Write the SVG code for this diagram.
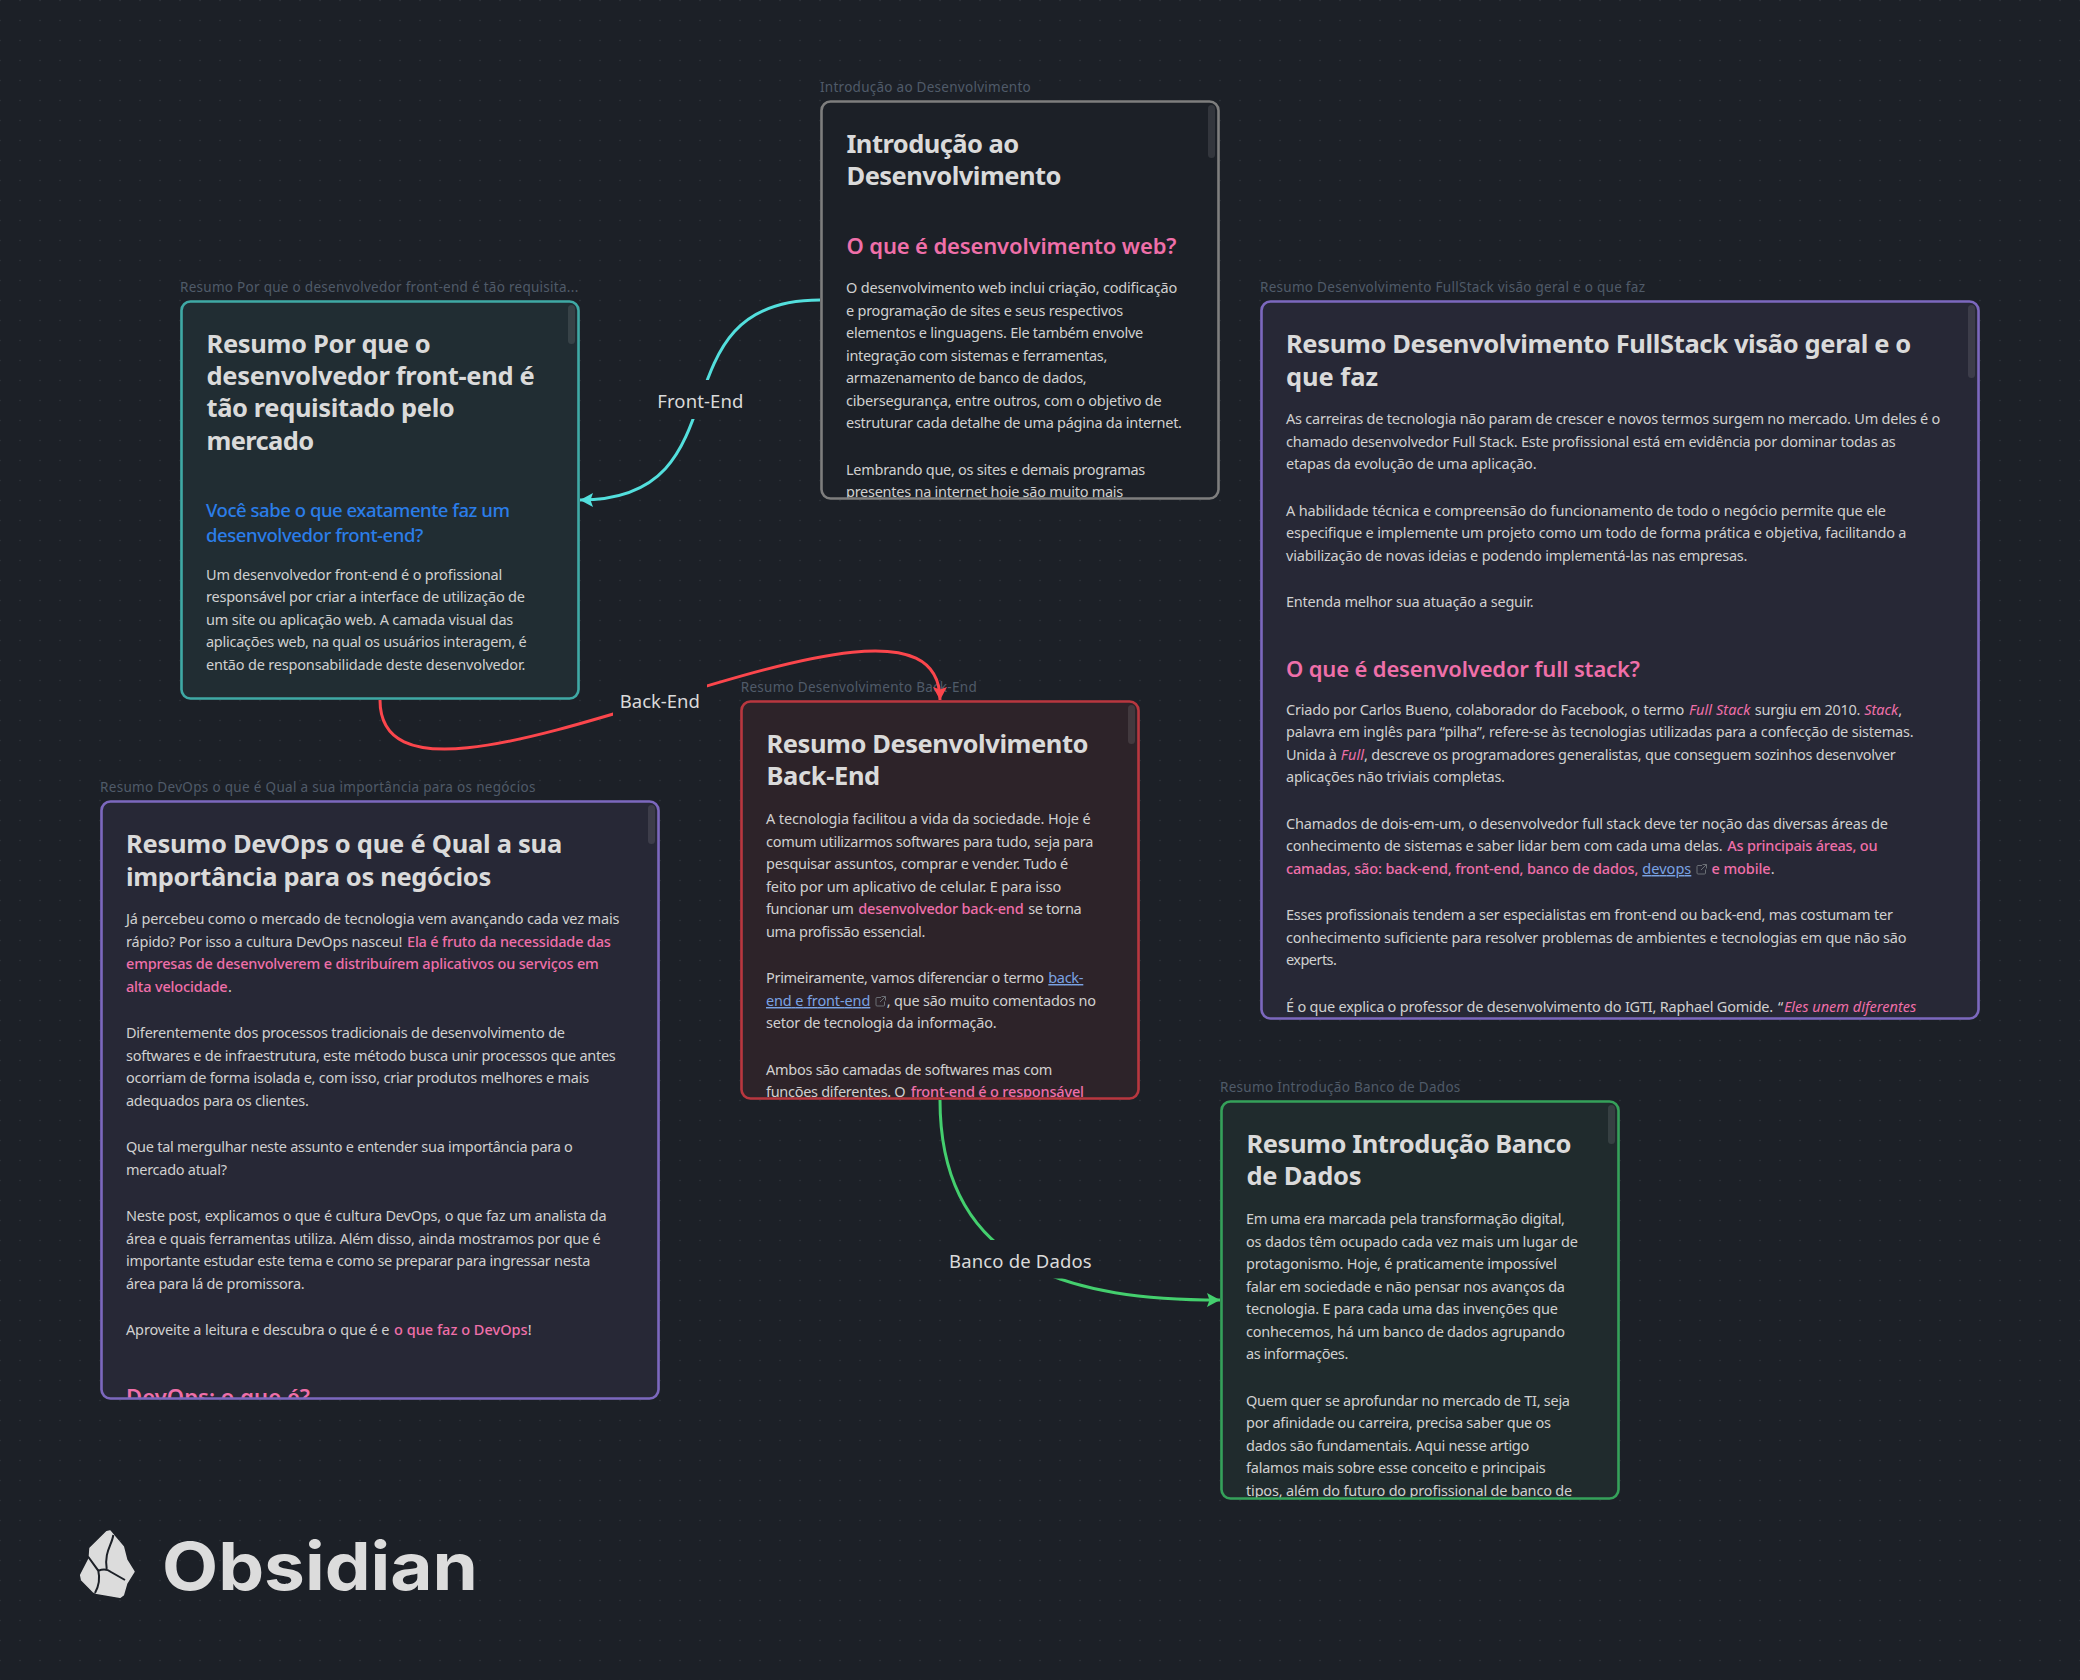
<svg xmlns="http://www.w3.org/2000/svg" width="2080" height="1680" viewBox="0 0 2080 1680">
<style>
text{font-family:"Noto Sans","Open Sans",sans-serif;white-space:pre}
.lab{font-size:13.5px;fill:#505b69}
.h1{font-size:25.500px;font-weight:700;fill:#dadada}
.h2{font-size:22px;font-weight:600;fill:#ef6fa9}
.h3{font-size:18.500px;font-weight:500;fill:#2b7de9}
.b{font-size:14.500px;fill:#d0d0d0}
.pk{fill:#ef6fa9;font-weight:500}
.em{fill:#ef6fa9;font-style:italic}
.ln{fill:#7aa2e3;text-decoration:underline}
.ico{fill:none;stroke:#6b6f75;stroke-width:1}
.fill{stroke:none}
.bd{fill:none;stroke-width:2.600}
.sb{fill:#fff;fill-opacity:.1}
.gray .fill{fill:#1c2027}.gray .bd{stroke:#7e7e7e}
.teal .fill{fill:#212d33}.teal .bd{stroke:#3fa9a5}
.purple .fill{fill:#272836}.purple .bd{stroke:#7c68be}
.red .fill{fill:#2d2329}.red .bd{stroke:#b8373f}
.green .fill{fill:#202b2d}.green .bd{stroke:#35a15a}
.edge{fill:none;stroke-width:3}
.elab{font-size:18.500px;fill:#dadada}
.ebg{fill:#1c2027}
</style>
<defs>
<pattern id="dots" x="-10" y="-10" width="20" height="20" patternUnits="userSpaceOnUse"><circle cx="10" cy="10.5" r="0.8" fill="#2e343b"/></pattern>
<marker id="aT" markerUnits="userSpaceOnUse" markerWidth="15" markerHeight="17" refX="13" refY="8" orient="auto"><path d="M0 1L13 8L0 15L2.500 8Z" fill="#53dfdd"/></marker>
<marker id="aR" markerUnits="userSpaceOnUse" markerWidth="15" markerHeight="17" refX="13" refY="8" orient="auto"><path d="M0 1L13 8L0 15L2.500 8Z" fill="#fb464c"/></marker>
<marker id="aG" markerUnits="userSpaceOnUse" markerWidth="15" markerHeight="17" refX="13" refY="8" orient="auto"><path d="M0 1L13 8L0 15L2.500 8Z" fill="#44cf6e"/></marker>
<clipPath id="c1"><rect x="821.500" y="101.500" width="397" height="397" rx="8"/></clipPath>
<clipPath id="c2"><rect x="181.500" y="301.500" width="397" height="397" rx="8"/></clipPath>
<clipPath id="c3"><rect x="1261.500" y="301.500" width="717" height="717" rx="8"/></clipPath>
<clipPath id="c4"><rect x="101.500" y="801.500" width="557" height="597" rx="8"/></clipPath>
<clipPath id="c5"><rect x="741.500" y="701.500" width="397" height="397" rx="8"/></clipPath>
<clipPath id="c6"><rect x="1221.500" y="1101.500" width="397" height="397" rx="8"/></clipPath>
<symbol id="ext" viewBox="0 0 11 11"><path class="ico" d="M6 1.500H2a1 1 0 0 0-1 1V9a1 1 0 0 0 1 1h6.500a1 1 0 0 0 1-1V5.500M6.500 .5h4v4M10.500 .5L5 6"/></symbol>
</defs>
<rect width="2080" height="1680" fill="#1c2027"/>
<rect width="2080" height="1680" fill="url(#dots)"/>

<g id="node-intro" class="gray">
<text class="lab" x="820" y="92" textLength="210.700">Introdução ao Desenvolvimento</text>
<rect class="fill" x="820" y="100" width="400" height="400" rx="10"/>
<g clip-path="url(#c1)">
<text class="h1" x="846.500" y="152.700" textLength="172.700">Introdução ao</text>
<text class="h1" x="846.500" y="185.300" textLength="215">Desenvolvimento</text>
<text class="h2" x="846.500" y="254" textLength="330">O que é desenvolvimento web?</text>
<text class="b" x="846" y="293" textLength="331.300">O desenvolvimento web inclui criação, codificação</text>
<text class="b" x="846" y="316" textLength="277.300">e programação de sites e seus respectivos</text>
<text class="b" x="846" y="338" textLength="297.300">elementos e linguagens. Ele também envolve</text>
<text class="b" x="846" y="361" textLength="261.300">integração com sistemas e ferramentas,</text>
<text class="b" x="846" y="383" textLength="240.700">armazenamento de banco de dados,</text>
<text class="b" x="846" y="406" textLength="315.700">cibersegurança, entre outros, com o objetivo de</text>
<text class="b" x="846" y="428" textLength="336">estruturar cada detalhe de uma página da internet.</text>
<text class="b" x="846" y="475" textLength="299.300">Lembrando que, os sites e demais programas</text>
<text class="b" x="846" y="497" textLength="277.300">presentes na internet hoje são muito mais</text>
</g>
<rect class="sb" x="1208" y="105" width="7" height="53" rx="3.500"/>
<rect class="bd" x="821.500" y="101.500" width="397" height="397" rx="9"/>
</g>

<g id="node-frontend" class="teal">
<text class="lab" x="180" y="292" textLength="398.300">Resumo Por que o desenvolvedor front-end é tão requisita...</text>
<rect class="fill" x="180" y="300" width="400" height="400" rx="10"/>
<g clip-path="url(#c2)">
<text class="h1" x="206.500" y="352.700" textLength="224.300">Resumo Por que o</text>
<text class="h1" x="206.500" y="385" textLength="328.300">desenvolvedor front-end é</text>
<text class="h1" x="206.500" y="417.300" textLength="248.300">tão requisitado pelo</text>
<text class="h1" x="206.500" y="450.300" textLength="107.700">mercado</text>
<text class="h3" x="206" y="517.300" textLength="304">Você sabe o que exatamente faz um</text>
<text class="h3" x="206" y="542" textLength="217.300">desenvolvedor front-end?</text>
<text class="b" x="206" y="580" textLength="296.300">Um desenvolvedor front-end é o profissional</text>
<text class="b" x="206" y="602" textLength="319">responsável por criar a interface de utilização de</text>
<text class="b" x="206" y="625" textLength="307.300">um site ou aplicação web. A camada visual das</text>
<text class="b" x="206" y="647" textLength="320.700">aplicações web, na qual os usuários interagem, é</text>
<text class="b" x="206" y="670" textLength="319.300">então de responsabilidade deste desenvolvedor.</text>
</g>
<rect class="sb" x="568" y="305" width="7" height="39" rx="3.500"/>
<rect class="bd" x="181.500" y="301.500" width="397" height="397" rx="9"/>
</g>

<g id="node-fullstack" class="purple">
<text class="lab" x="1260" y="292" textLength="385">Resumo Desenvolvimento FullStack visão geral e o que faz</text>
<rect class="fill" x="1260" y="300" width="720" height="720" rx="10"/>
<g clip-path="url(#c3)">
<text class="h1" x="1286" y="353" textLength="625.300">Resumo Desenvolvimento FullStack visão geral e o</text>
<text class="h1" x="1286" y="386" textLength="92">que faz</text>
<text class="b" x="1286" y="424" textLength="654.400">As carreiras de tecnologia não param de crescer e novos termos surgem no mercado. Um deles é o</text>
<text class="b" x="1286" y="447" textLength="609.800">chamado desenvolvedor Full Stack. Este profissional está em evidência por dominar todas as</text>
<text class="b" x="1286" y="469" textLength="250.600">etapas da evolução de uma aplicação.</text>
<text class="b" x="1286" y="516" textLength="600">A habilidade técnica e compreensão do funcionamento de todo o negócio permite que ele</text>
<text class="b" x="1286" y="538" textLength="620.500">especifique e implemente um projeto como um todo de forma prática e objetiva, facilitando a</text>
<text class="b" x="1286" y="561" textLength="461.500">viabilização de novas ideias e podendo implementá-las nas empresas.</text>
<text class="b" x="1286" y="607" textLength="247.700">Entenda melhor sua atuação a seguir.</text>
<text class="h2" x="1286" y="677" textLength="353.900">O que é desenvolvedor full stack?</text>
<text class="b" y="715"><tspan x="1286" textLength="398.400">Criado por Carlos Bueno, colaborador do Facebook, o termo</tspan><tspan class="em" x="1688.900" textLength="61.500">Full Stack</tspan><tspan x="1754.800" textLength="105.700">surgiu em 2010.</tspan><tspan class="em" x="1864.300" textLength="34">Stack</tspan><tspan x="1898.300">,</tspan></text>
<text class="b" x="1286" y="737" textLength="627.700">palavra em inglês para “pilha”, refere-se às tecnologias utilizadas para a confecção de sistemas.</text>
<text class="b" y="760"><tspan x="1286" textLength="50.900">Unida à</tspan><tspan class="em" x="1340.800" textLength="23.300">Full</tspan><tspan x="1364.100" textLength="531.700">, descreve os programadores generalistas, que conseguem sozinhos desenvolver</tspan></text>
<text class="b" x="1286" y="782" textLength="219">aplicações não triviais completas.</text>
<text class="b" x="1286" y="829" textLength="602">Chamados de dois-em-um, o desenvolvedor full stack deve ter noção das diversas áreas de</text>
<text class="b" y="851"><tspan x="1286" textLength="436.700">conhecimento de sistemas e saber lidar bem com cada uma delas.</tspan><tspan class="pk" x="1727.200" textLength="150.300">As principais áreas, ou</tspan></text>
<text class="b" y="874"><tspan class="pk" x="1286" textLength="352.400">camadas, são: back-end, front-end, banco de dados,</tspan><tspan class="ln" x="1642.300" textLength="49">devops</tspan><tspan class="pk" x="1711.600" textLength="59.100">e mobile</tspan><tspan x="1770.800">.</tspan></text>
<use href="#ext" x="1696" y="864" width="11" height="11"/>
<text class="b" x="1286" y="920" textLength="606.900">Esses profissionais tendem a ser especialistas em front-end ou back-end, mas costumam ter</text>
<text class="b" x="1286" y="943" textLength="620.500">conhecimento suficiente para resolver problemas de ambientes e tecnologias em que não são</text>
<text class="b" x="1286" y="965" textLength="50.900">experts.</text>
<text class="b" y="1012"><tspan x="1286" textLength="487.200">É o que explica o professor de desenvolvimento do IGTI, Raphael Gomide.</tspan><tspan x="1778">“</tspan><tspan class="em" x="1783.900" textLength="132.300">Eles unem diferentes</tspan></text>
</g>
<rect class="sb" x="1968" y="305" width="7" height="73" rx="3.500"/>
<rect class="bd" x="1261.500" y="301.500" width="717" height="717" rx="9"/>
</g>

<g id="node-devops" class="purple">
<text class="lab" x="100" y="792" textLength="435.400">Resumo DevOps o que é Qual a sua importância para os negócios</text>
<rect class="fill" x="100" y="800" width="560" height="600" rx="10"/>
<g clip-path="url(#c4)">
<text class="h1" x="126" y="853" textLength="436.200">Resumo DevOps o que é Qual a sua</text>
<text class="h1" x="126" y="885.500" textLength="365.200">importância para os negócios</text>
<text class="b" x="126" y="924" textLength="493.500">Já percebeu como o mercado de tecnologia vem avançando cada vez mais</text>
<text class="b" y="947"><tspan x="126" textLength="276.400">rápido? Por isso a cultura DevOps nasceu!</tspan><tspan class="pk" x="407" textLength="203.800">Ela é fruto da necessidade das</tspan></text>
<text class="b pk" x="126" y="969" textLength="472.800">empresas de desenvolverem e distribuírem aplicativos ou serviços em</text>
<text class="b" y="992"><tspan class="pk" x="126" textLength="101.700">alta velocidade</tspan><tspan x="228">.</tspan></text>
<text class="b" x="126" y="1038" textLength="439">Diferentemente dos processos tradicionais de desenvolvimento de</text>
<text class="b" x="126" y="1061" textLength="489.800">softwares e de infraestrutura, este método busca unir processos que antes</text>
<text class="b" x="126" y="1083" textLength="463.200">ocorriam de forma isolada e, com isso, criar produtos melhores e mais</text>
<text class="b" x="126" y="1106" textLength="182.800">adequados para os clientes.</text>
<text class="b" x="126" y="1152" textLength="446.900">Que tal mergulhar neste assunto e entender sua importância para o</text>
<text class="b" x="126" y="1175" textLength="101">mercado atual?</text>
<text class="b" x="126" y="1221" textLength="480.600">Neste post, explicamos o que é cultura DevOps, o que faz um analista da</text>
<text class="b" x="126" y="1244" textLength="474.700">área e quais ferramentas utiliza. Além disso, ainda mostramos por que é</text>
<text class="b" x="126" y="1266" textLength="464.300">importante estudar este tema e como se preparar para ingressar nesta</text>
<text class="b" x="126" y="1289" textLength="178.700">área para lá de promissora.</text>
<text class="b" y="1335"><tspan x="126" textLength="263.400">Aproveite a leitura e descubra o que é e</tspan><tspan class="pk" x="394" textLength="133.600">o que faz o DevOps</tspan><tspan x="527.700">!</tspan></text>
<text class="h2" x="126" y="1405" textLength="184">DevOps: o que é?</text>
</g>
<rect class="sb" x="648" y="805" width="7" height="39" rx="3.500"/>
<rect class="bd" x="101.500" y="801.500" width="557" height="597" rx="9"/>
</g>

<g id="node-backend" class="red">
<text class="lab" x="740.700" y="692" textLength="236">Resumo Desenvolvimento Back-End</text>
<rect class="fill" x="740" y="700" width="400" height="400" rx="10"/>
<g clip-path="url(#c5)">
<text class="h1" x="766.500" y="752.700" textLength="322">Resumo Desenvolvimento</text>
<text class="h1" x="766.500" y="785" textLength="113.700">Back-End</text>
<text class="b" x="766" y="824" textLength="324.700">A tecnologia facilitou a vida da sociedade. Hoje é</text>
<text class="b" x="766" y="847" textLength="327.300">comum utilizarmos softwares para tudo, seja para</text>
<text class="b" x="766" y="869" textLength="302.300">pesquisar assuntos, comprar e vender. Tudo é</text>
<text class="b" x="766" y="892" textLength="295.300">feito por um aplicativo de celular. E para isso</text>
<text class="b" y="914"><tspan x="766" textLength="87.700">funcionar um</tspan><tspan class="pk" x="858.300" textLength="165.400">desenvolvedor back-end</tspan><tspan x="1028.300" textLength="53.400">se torna</tspan></text>
<text class="b" x="766" y="937" textLength="159.300">uma profissão essencial.</text>
<text class="b" y="983"><tspan x="766" textLength="278">Primeiramente, vamos diferenciar o termo</tspan><tspan class="ln" x="1048.300" textLength="35">back-</tspan></text>
<text class="b" y="1006"><tspan class="ln" x="766" textLength="104.300">end e front-end</tspan><tspan x="886.700" textLength="209.300">, que são muito comentados no</tspan></text>
<use href="#ext" x="875" y="996" width="11" height="11"/>
<text class="b" x="766" y="1028" textLength="230.700">setor de tecnologia da informação.</text>
<text class="b" x="766" y="1075" textLength="286.300">Ambos são camadas de softwares mas com</text>
<text class="b" y="1097"><tspan x="766" textLength="139.700">funções diferentes. O</tspan><tspan class="pk" x="910.700" textLength="173.300">front-end é o responsável</tspan></text>
</g>
<rect class="sb" x="1128" y="705" width="7" height="39" rx="3.500"/>
<rect class="bd" x="741.500" y="701.500" width="397" height="397" rx="9"/>
</g>

<g id="node-database" class="green">
<text class="lab" x="1220" y="1092" textLength="240.300">Resumo Introdução Banco de Dados</text>
<rect class="fill" x="1220" y="1100" width="400" height="400" rx="10"/>
<g clip-path="url(#c6)">
<text class="h1" x="1246.500" y="1152.700" textLength="325">Resumo Introdução Banco</text>
<text class="h1" x="1246.500" y="1185" textLength="115">de Dados</text>
<text class="b" x="1246" y="1224" textLength="319">Em uma era marcada pela transformação digital,</text>
<text class="b" x="1246" y="1247" textLength="332">os dados têm ocupado cada vez mais um lugar de</text>
<text class="b" x="1246" y="1269" textLength="311">protagonismo. Hoje, é praticamente impossível</text>
<text class="b" x="1246" y="1292" textLength="319">falar em sociedade e não pensar nos avanços da</text>
<text class="b" x="1246" y="1314" textLength="312">tecnologia. E para cada uma das invenções que</text>
<text class="b" x="1246" y="1337" textLength="319">conhecemos, há um banco de dados agrupando</text>
<text class="b" x="1246" y="1359" textLength="102.300">as informações.</text>
<text class="b" x="1246" y="1406" textLength="324">Quem quer se aprofundar no mercado de TI, seja</text>
<text class="b" x="1246" y="1428" textLength="305">por afinidade ou carreira, precisa saber que os</text>
<text class="b" x="1246" y="1451" textLength="283.300">dados são fundamentais. Aqui nesse artigo</text>
<text class="b" x="1246" y="1473" textLength="299.700">falamos mais sobre esse conceito e principais</text>
<text class="b" x="1246" y="1496" textLength="326.300">tipos, além do futuro do profissional de banco de</text>
</g>
<rect class="sb" x="1608" y="1105" width="7" height="39" rx="3.500"/>
<rect class="bd" x="1221.500" y="1101.500" width="397" height="397" rx="9"/>
</g>

<g id="connectors">
<path class="edge" stroke="#53dfdd" marker-end="url(#aT)" d="M820 300C650 300 750 500 580 500"/>
<rect class="ebg" x="650" y="380" width="100" height="39"/>
<text class="elab" x="657.300" y="408" textLength="86">Front-End</text>
<path class="edge" stroke="#fb464c" marker-end="url(#aR)" d="M380 700C380 870 940 530 940 700"/>
<rect class="ebg" x="613" y="680" width="94" height="39"/>
<text class="elab" x="619.800" y="707.500" textLength="80">Back-End</text>
<path class="edge" stroke="#44cf6e" marker-end="url(#aG)" d="M940 1100C940 1270 1075 1300 1220 1300"/>
<rect class="ebg" x="942" y="1240" width="156" height="38.500"/>
<text class="elab" x="949" y="1268" textLength="142.700">Banco de Dados</text>
</g>

<g id="logo">
<path fill="#dcdcdc" stroke="#dcdcdc" stroke-width="1.500" stroke-linejoin="round" d="M110 1531L115 1537L123.300 1546.700L126.700 1560L134 1571.700L126.700 1583.300L123.300 1595L120 1597.300L96.700 1593.300L93.300 1591.700L81.700 1580L80.700 1575L89.300 1558.300L90 1548.300L106.700 1531.700Z"/>
<path fill="none" stroke="#1c2027" stroke-width="2" d="M113.300 1535C112 1545 104 1552 106.700 1569M88 1556.500L98.300 1570.700Q106 1568 111 1572L125 1580M98.300 1570.700Q101 1582 95 1593"/>
<text x="162" y="1590" textLength="316" lengthAdjust="spacingAndGlyphs" style="font-family:Inter,'Liberation Sans',sans-serif;font-weight:700;font-size:66px;fill:#dcdcdc">Obsidian</text>
</g>
</svg>
